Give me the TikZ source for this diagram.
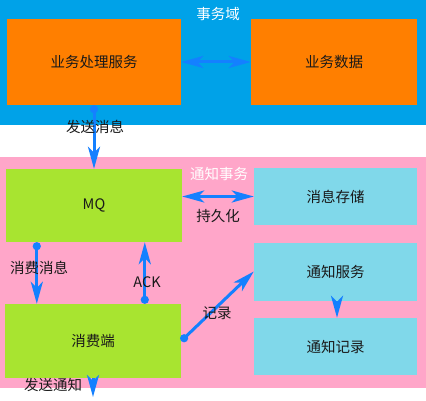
\documentclass[tikz,border=0pt]{standalone}
\usepackage{fontspec}
\setmainfont{Noto Sans CJK SC}
\usetikzlibrary{arrows.meta}
\definecolor{bluebg}{RGB}{0,162,232}
\definecolor{orangebox}{RGB}{255,127,0}
\definecolor{pinkbg}{RGB}{255,166,201}
\definecolor{greenbox}{RGB}{168,228,48}
\definecolor{cyanbox}{RGB}{128,216,234}
\definecolor{arrowblue}{RGB}{20,128,255}
\tikzset{
  box/.style={inner sep=0pt, minimum width=#1, font=\fontsize{14.5}{17}\selectfont, text=black!90},
  obox/.style={box=174pt, fill=orangebox, minimum height=86pt},
  gbox/.style={box=176pt, fill=greenbox},
  cbox/.style={box=163pt, fill=cyanbox},
  lbl/.style={inner sep=0pt, font=\fontsize{14.5}{17}\selectfont, text=black!90},
  wlbl/.style={lbl, text=white},
  conn/.style={draw=arrowblue, line width=3pt},
  tipA/.style={-{Stealth[length=22pt,width=12pt,inset=6pt]}},
  tipB/.style={{Stealth[length=22pt,width=12pt,inset=6pt]}-{Stealth[length=22pt,width=12pt,inset=6pt]}},
  tipD/.style={{Circle[length=8pt]}-{Stealth[length=22pt,width=12pt,inset=6pt]}},
}
\begin{document}
\begin{tikzpicture}[x=1pt,y=-1pt]
\useasboundingbox (0,0) rectangle (426,401);
\fill[white] (0,0) rectangle (426,401);
\fill[bluebg] (0,0) rectangle (426,125);
\fill[pinkbg] (0,157) rectangle (426,388);

\node[obox] (bizsvc) at (94,62) {业务处理服务};
\node[obox, minimum width=166pt] (bizdata) at (334,62) {业务数据};
\node[gbox, minimum height=73pt] (mq) at (94,205.5) {MQ};
\node[cbox, minimum height=57pt] (store) at (335.5,196.5) {消息存储};
\node[cbox, minimum height=58pt] (notsvc) at (335.5,271.5) {通知服务};
\node[cbox, minimum height=57pt] (notrec) at (335.5,346.5) {通知记录};
\node[gbox, minimum height=74pt] (consumer) at (93,341) {消费端};
\coordinate (notifyend) at (93,397);

\node[wlbl] (l1) at (218,14) {事务域};
\node[wlbl] (l2) at (219,174) {通知事务};

\draw[conn, tipB] (bizsvc.east) -- (bizdata.west);
\draw[conn, tipD] (bizsvc.south) -- (mq.north);
\draw[conn, tipB] (mq.east |- store.west) -- (store.west);
\draw[conn, tipD] ([xshift=31pt]mq.south west) -- ([xshift=32pt]consumer.north west);
\draw[conn, tipD] ([xshift=140pt]consumer.north west) -- ([xshift=139pt]mq.south west);
\draw[conn, tipD] (consumer.east) -- (notsvc.west);
\draw[conn, tipA] ([xshift=1.5pt]notsvc.south) -- ([xshift=1.5pt]notrec.north);
\draw[conn, tipA] (consumer.south) -- (notifyend);

\node[lbl] (l3) at (95,127) {发送消息};
\node[lbl] (l4) at (218,216) {持久化};
\node[lbl] (l5) at (39,268) {消费消息};
\node[lbl] (l6) at (147,282) {ACK};
\node[lbl] (l7) at (217,313) {记录};
\node[lbl] (l8) at (53,385) {发送通知};
\end{tikzpicture}
\end{document}
